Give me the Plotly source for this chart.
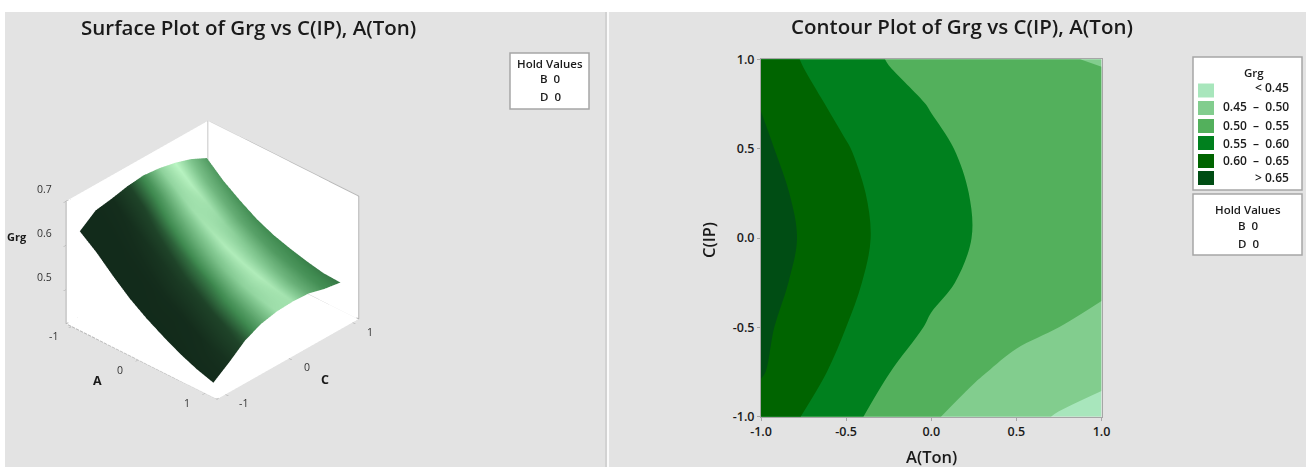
import plotly.graph_objects as go

# ---- data ----
A_LEVELS = [-1, -0.75, -0.5, -0.25, 0, 0.25, 0.5, 0.75, 1]
C_LEVELS = [-1, -0.75, -0.5, -0.25, 0, 0.25, 0.5, 0.75, 1]
GRG = [  # rows: C, columns: A
    [.627, .598, .563, .531, .505, .483, .463, .447, .435],
    [.654, .617, .586, .551, .527, .506, .487, .472, .461],
    [.660, .628, .600, .572, .545, .527, .512, .500, .490],
    [.668, .640, .610, .583, .560, .542, .527, .515, .507],
    [.672, .646, .615, .589, .568, .549, .535, .524, .515],
    [.668, .641, .611, .587, .565, .548, .535, .525, .517],
    [.660, .628, .603, .576, .558, .543, .531, .522, .515],
    [.648, .613, .587, .563, .548, .531, .520, .512, .505],
    [.630, .597, .571, .548, .531, .519, .509, .501, .499],
]
SHADE = [  # rows: C, columns: A
    [.05, .05, .05, .05, .06, .06, .06, .07, .07],
    [.06, .06, .07, .07, .08, .08, .10, .13, .15],
    [.10, .12, .15, .18, .21, .24, .28, .32, .36],
    [.28, .31, .36, .40, .44, .48, .54, .58, .63],
    [.52, .57, .63, .68, .73, .78, .83, .86, .89],
    [.82, .85, .89, .92, .95, .95, .95, .92, .90],
    [.99, .96, .90, .85, .80, .76, .72, .68, .66],
    [.76, .72, .68, .64, .60, .58, .56, .54, .52],
    [.58, .56, .53, .51, .50, .49, .47, .46, .45],
]
SHADE_COLORS = [[0, "#10281a"], [0.1, "#142d1c"], [0.3, "#1f4429"], [0.5, "#3f8a50"], [0.8, "#86cb94"], [1, "#bdf7c6"]]
LEVEL_LABELS = ["< 0.45", "0.45  –  0.50", "0.50  –  0.55", "0.55  –  0.60", "0.60  –  0.65", "> 0.65"]
LEVEL_COLORS = ["#a8e6bc", "#82cd8e", "#53b05c", "#00801e", "#006400", "#004d14"]
TICKS_3D = [-1, 0, 1]
TICKS_Z = [0.5, 0.6, 0.7]
TICKS_2D = [-1, -0.5, 0, 0.5, 1]
A_RANGE = [-1.08, 1.18]
C_RANGE = [-1.13, 1.10]
Z_RANGE = [0.422, 0.70]

W, H = 1306, 467
BG = "#e3e3e3"
FONT = "Open Sans"
TEXT = "#1a1a1a"
BOX = "#a6a6a6"

fig = go.Figure()

fig.add_trace(go.Surface(
    x=A_LEVELS, y=C_LEVELS, z=GRG, surfacecolor=SHADE, colorscale=SHADE_COLORS,
    cmin=0, cmax=1, showscale=False, hoverinfo="skip",
    lighting=dict(ambient=1, diffuse=0, specular=0, fresnel=0),
))

a0, a1 = A_RANGE
c0, c1 = C_RANGE
z0, z1 = Z_RANGE
edges = [
    [(a0, c0, z0), (a1, c0, z0), (a1, c1, z0), (a0, c1, z0), (a0, c0, z0)],
    [(a0, c0, z0), (a0, c0, z1), (a0, c1, z1), (a1, c1, z1), (a1, c1, z0)],
    [(a0, c1, z0), (a0, c1, z1)],
]
for e in edges:
    fig.add_trace(go.Scatter3d(
        x=[p[0] for p in e], y=[p[1] for p in e], z=[p[2] for p in e],
        mode="lines", line=dict(color="#b4b4b4", width=2), hoverinfo="skip", showlegend=False,
    ))

fig.add_trace(go.Contour(
    x=A_LEVELS, y=C_LEVELS, z=GRG, xaxis="x", yaxis="y",
    autocontour=False,
    contours=dict(start=0.45, end=0.65, size=0.05, coloring="fill", showlines=False),
    line=dict(width=0, smoothing=1.0),
    colorscale=[[i / 5, c] for i, c in enumerate(LEVEL_COLORS)],
    zmin=0.425, zmax=0.675,
    showscale=False, hoverinfo="skip",
))

ax3 = dict(showgrid=False, zeroline=False, showbackground=True, backgroundcolor="white",
           showline=False, showspikes=False, ticks="outside", ticklen=4, tickcolor=BOX,
           showticklabels=False, title=dict(text=""))

def scene_text(x, y, z, text, dx, dy, size=10.5, weight=500):
    return dict(x=x, y=y, z=z, text=text, showarrow=False, xshift=dx, yshift=-dy, xanchor="center", yanchor="middle",
                font=dict(family=FONT, size=size, color="#333333" if weight < 600 else TEXT, weight=weight))

scene_ann = []
for t in TICKS_3D:
    scene_ann.append(scene_text(t, c0, z0, str(t), -18, 10))
    scene_ann.append(scene_text(a1, t, z0, str(t), 18, 9))
for t in TICKS_Z:
    scene_ann.append(scene_text(a0, c0, t, str(t), -22, -12))
scene_ann.append(scene_text(0, c0, z0, "A", -41, 21, 12.5, 700))
scene_ann.append(scene_text(a1, 0, z0, "C", 36, 21, 12.5, 700))
scene_ann.append(scene_text(a0, c0, 0.6, "Grg", -49, -9, 11, 700))

tick2d = dict(tickvals=TICKS_2D, ticktext=["-1.0", "-0.5", "0.0", "0.5", "1.0"], ticks="outside", ticklen=3, tickcolor=BOX,
              linecolor=BOX, linewidth=1, mirror=True, showline=True, showgrid=False, zeroline=False, automargin=False,
              range=[-1, 1], tickfont=dict(size=12.5, color=TEXT, weight=600))

EYE_SCALE = 1.024
fig.update_layout(
    width=W, height=H, margin=dict(l=0, r=0, t=0, b=0), paper_bgcolor=BG, plot_bgcolor=BG,
    showlegend=False,
    font=dict(family=FONT, color=TEXT),
    scene=dict(
        domain=dict(x=[0.0, 425 / W], y=[0.0, 414 / H]),
        xaxis=dict(ax3, range=A_RANGE, tickvals=TICKS_3D),
        yaxis=dict(ax3, range=C_RANGE, tickvals=TICKS_3D),
        zaxis=dict(ax3, range=Z_RANGE, tickvals=TICKS_Z),
        aspectmode="manual", aspectratio=dict(x=1, y=1, z=0.70),
        camera=dict(projection=dict(type="orthographic"),
                    eye=dict(x=1.38 * EYE_SCALE, y=-1.47 * EYE_SCALE, z=1.265 * EYE_SCALE), center=dict(x=0, y=0, z=0), up=dict(x=0, y=0, z=1)),
        annotations=scene_ann,
    ),
    xaxis=dict(tick2d, domain=[761 / W, 1101.5 / W]),
    yaxis=dict(tick2d, domain=[1 - 416.7 / H, 1 - 59.3 / H]),
)

def px_rect(x0, y0, x1, y1, fill, line=None, width=1):
    fig.add_shape(type="rect", xref="paper", yref="paper", x0=x0 / W, x1=x1 / W, y0=1 - y0 / H, y1=1 - y1 / H,
                  fillcolor=fill, line=dict(color=line or fill, width=width if line else 0), layer="below")

def px_text(x, y, text, size=10.5, anchor="center", weight=600, angle=0):
    fig.add_annotation(xref="paper", yref="paper", x=x / W, y=1 - y / H, text=text, textangle=angle,
                       showarrow=False, xanchor=anchor, yanchor="middle", font=dict(size=size, color=TEXT, family=FONT, weight=weight))

px_rect(0, 0, 5, H, "white")
px_rect(605, 12, 607, H, "#d2d2d2")
px_rect(607, 12, 609, H, "#fafafa")
px_rect(0, 0, W, 12, "white")

px_text(248.5, 27, "Surface Plot of Grg vs C(IP), A(Ton)", size=20.5)
px_text(962, 26, "Contour Plot of Grg vs C(IP), A(Ton)", size=20.5)
px_text(931.5, 456, "A(Ton)", size=16.5)
px_text(708, 240, "C(IP)", size=16.5, angle=-90)

px_rect(510, 53, 589, 109, "white", BOX, 1.5)
px_text(550, 63, "Hold Values", 11.5)
px_text(550, 79, "B  0", 11.5)
px_text(550, 96, "D  0", 11.5)

px_rect(1193, 57, 1302, 190, "white", BOX, 1.5)
px_text(1254, 73, "Grg", 11.5)
swatch_y = [90.5, 108, 126, 143, 161, 178]
text_y = [88, 107, 125, 143, 161, 177]
for sy, ty, label, color in zip(swatch_y, text_y, LEVEL_LABELS, LEVEL_COLORS):
    px_rect(1198, sy - 7, 1214, sy + 7, color)
    px_text(1291, ty, label, 12, anchor="right")

px_rect(1193, 194, 1302, 255, "white", BOX, 1.5)
px_text(1248, 209, "Hold Values", 11.5)
px_text(1248, 225, "B  0", 11.5)
px_text(1248, 243, "D  0", 11.5)

fig.write_html("out.html", config={"displayModeBar": False}, post_script="document.body.style.margin='0';")
